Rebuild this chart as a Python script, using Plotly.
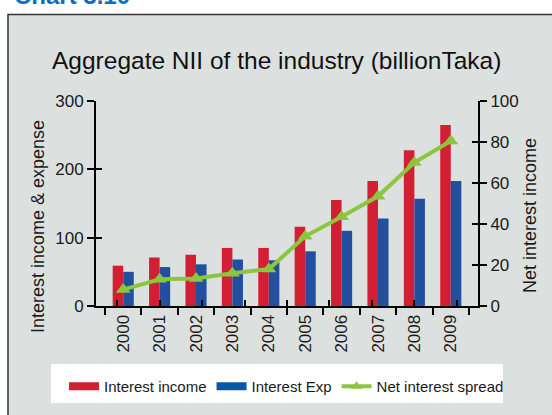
import plotly.graph_objects as go

years = ["2000", "2001", "2002", "2003", "2004", "2005", "2006", "2007", "2008", "2009"]
interest_income = [59, 71, 75, 85, 85, 116, 155, 183, 228, 265]
interest_exp = [50, 57, 61, 68, 67, 80, 110, 128, 157, 183]
net_spread = [8, 13, 13.4, 16, 18, 34, 43.5, 53.5, 70, 80.5]

left_ticks = [0, 100, 200, 300]
right_ticks = [0, 20, 40, 60, 80, 100]

RED = "#d21f34"
BLUE = "#22509e"
LEG_BLUE = "#0a56a5"
GREEN = "#8cc63f"
W, H = 552, 415
FONT = "Liberation Sans, Arial, sans-serif"

def px_x(v):
    return v / W

def px_y(v):
    return 1 - v / H

fig = go.Figure()
fig.add_trace(go.Bar(x=years, y=interest_income, name="Interest income", showlegend=False,
                     marker=dict(color=RED, line=dict(width=0))))
fig.add_trace(go.Bar(x=years, y=interest_exp, name="Interest Exp", showlegend=False,
                     marker=dict(color=BLUE, line=dict(width=0))))
fig.add_trace(go.Scatter(x=years, y=net_spread, name="Net interest spread", yaxis="y2",
                         mode="lines+markers", showlegend=False,
                         line=dict(color=GREEN, width=4),
                         marker=dict(symbol="triangle-up", size=13, color=GREEN)))

# legend entries (wide flat swatches like the original)
fig.add_trace(go.Scatter(x=[None], y=[None], name="Interest income", mode="lines",
                         line=dict(color=RED, width=8), hoverinfo="skip"))
fig.add_trace(go.Scatter(x=[None], y=[None], name="Interest Exp", mode="lines",
                         line=dict(color=LEG_BLUE, width=8), hoverinfo="skip"))
fig.add_trace(go.Scatter(x=[None], y=[None], name="Net interest spread", mode="lines+markers",
                         line=dict(color=GREEN, width=4),
                         marker=dict(symbol="triangle-up", size=10, color=GREEN),
                         hoverinfo="skip"))

xdom = [px_x(96), px_x(478)]
ydom = [px_y(306), px_y(101)]

common_off = dict(automargin=False, showgrid=False, zeroline=False)

fig.update_layout(
    width=W, height=H,
    margin=dict(l=0, r=0, t=0, b=0, pad=0),
    paper_bgcolor="white",
    plot_bgcolor="rgba(0,0,0,0)",
    barmode="group", bargap=0.42, bargroupgap=0,
    font=dict(family=FONT, color="#1a1a1a"),
    showlegend=True,
    legend=dict(orientation="h", x=px_x(64), y=px_y(370), xanchor="left", yanchor="top",
                bgcolor="rgba(0,0,0,0)",
                font=dict(family=FONT, size=15, color="#1a1a1a"),
                itemwidth=30, tracegroupgap=0),
    xaxis=dict(domain=xdom, type="category", tickson="boundaries",
               showline=True, linecolor="black", linewidth=2,
               ticks="outside", ticklen=7, tickwidth=2, tickcolor="black",
               tickangle=-90, tickfont=dict(size=17), **common_off),
    yaxis=dict(domain=ydom, range=[0, 300], tickvals=left_ticks,
               showline=True, linecolor="black", linewidth=2,
               ticks="outside", ticklen=7, tickwidth=2, tickcolor="black",
               tickfont=dict(size=17), **common_off),
    yaxis2=dict(domain=ydom, range=[0, 100], tickvals=right_ticks, overlaying="y", side="right",
                anchor="x",
                showline=True, linecolor="black", linewidth=2,
                ticks="outside", ticklen=7, tickwidth=2, tickcolor="black",
                tickfont=dict(size=17), **common_off),
    # inner half of crossing ticks
    yaxis3=dict(domain=ydom, range=[0, 300], tickvals=left_ticks, overlaying="y", side="left",
                anchor="x", showline=False, ticks="inside", ticklen=6, tickwidth=2,
                tickcolor="black", showticklabels=False, **common_off),
    yaxis4=dict(domain=ydom, range=[0, 100], tickvals=right_ticks, overlaying="y", side="right",
                anchor="x", showline=False, ticks="inside", ticklen=6, tickwidth=2,
                tickcolor="black", showticklabels=False, **common_off),
    xaxis2=dict(domain=xdom, type="category", overlaying="x", anchor="y", side="bottom",
                categoryarray=years, categoryorder="array", tickson="boundaries",
                ticks="inside", ticklen=6, tickwidth=2, tickcolor="black",
                showticklabels=False, showline=False, **common_off),
    shapes=[
        dict(type="rect", xref="paper", yref="paper", x0=px_x(8), x1=px_x(575),
             y0=px_y(430), y1=px_y(14.5), fillcolor="#dce1df",
             line=dict(color="#333333", width=1.5), layer="below"),
        dict(type="rect", xref="paper", yref="paper", x0=px_x(51), x1=px_x(503),
             y0=px_y(403), y1=px_y(364), fillcolor="white",
             line=dict(width=0), layer="below"),
    ],
    annotations=[
        dict(text="Aggregate NII of the industry (billionTaka)", xref="paper", yref="paper",
             x=px_x(276), y=px_y(60), xanchor="center", yanchor="middle", showarrow=False,
             font=dict(size=24.5, color="#111111")),
        dict(text="Interest income & expense", xref="paper", yref="paper",
             x=px_x(38), y=px_y(227), xanchor="center", yanchor="middle", showarrow=False,
             textangle=-90, font=dict(size=18, color="#1a1a1a")),
        dict(text="Net interest income", xref="paper", yref="paper",
             x=px_x(530), y=px_y(216), xanchor="center", yanchor="middle", showarrow=False,
             textangle=-90, font=dict(size=18, color="#1a1a1a")),
        dict(text="<b>Chart 3.10</b>", xref="paper", yref="paper",
             x=px_x(12), y=px_y(10.5), xanchor="left", yanchor="bottom", showarrow=False,
             font=dict(size=24, color="#0a6fc2")),
    ],
)

# invisible traces to activate the tick-only axes
fig.add_trace(go.Scatter(x=years, y=[None] * len(years), yaxis="y3", showlegend=False,
                         hoverinfo="skip", mode="lines"))
fig.add_trace(go.Scatter(x=years, y=[None] * len(years), yaxis="y4", showlegend=False,
                         hoverinfo="skip", mode="lines"))
fig.add_trace(go.Scatter(x=years, y=[None] * len(years), xaxis="x2", showlegend=False,
                         hoverinfo="skip", mode="lines"))

fig.write_html("out.html")
